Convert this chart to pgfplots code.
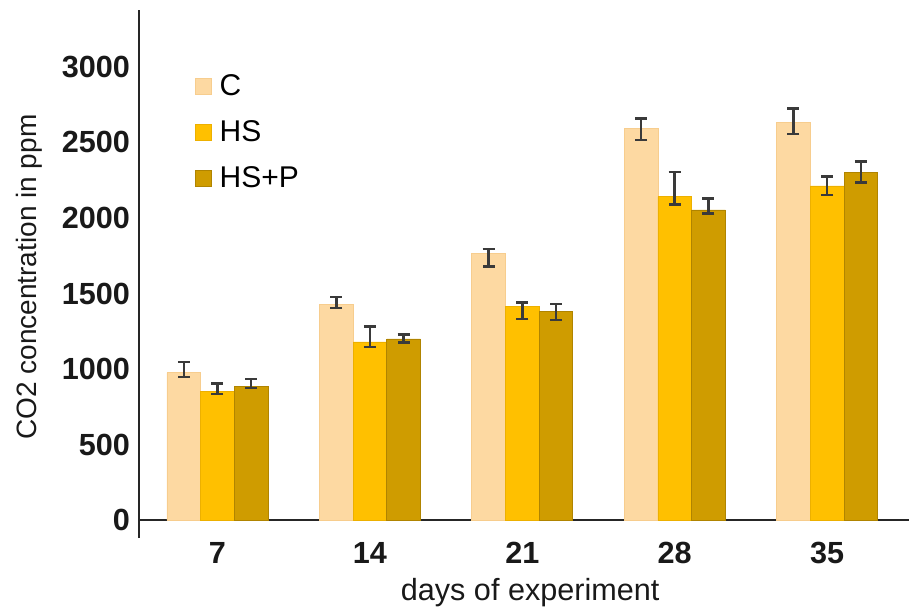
\documentclass[border=0pt]{standalone}
\usepackage{pgfplots}
\pgfplotsset{compat=1.18}
\usepackage{pgfplotstable}
\usepackage{fontspec}
\setmainfont{Liberation Sans}
\definecolor{cC}{HTML}{FDD9A2}
\definecolor{cCe}{HTML}{F7CD8E}
\definecolor{cHS}{HTML}{FFC000}
\definecolor{cHSe}{HTML}{EDB000}
\definecolor{cHP}{HTML}{CF9C00}
\definecolor{cHPe}{HTML}{B08400}
\definecolor{eb}{HTML}{3A3A3A}
\pgfplotstableread{
x C Cp Cm HS HSp HSm HP HPp HPm
0 975 71 28 850 53 16 883 51 9
1 1428 49 24 1179 101 33 1199 28 25
2 1766 29 89 1413 26 82 1384 46 59
3 2594 66 77 2141 164 50 2053 77 22
4 2631 95 75 2212 61 60 2300 73 64
}\data
\begin{document}
\begin{tikzpicture}
\begin{axis}[
  scale only axis, width=385pt, height=264pt,
  xmin=-0.515, xmax=4.537, ymin=-119, ymax=3377,
  axis y line*=left, axis x line*=middle,
  axis line style={line width=1pt, color=black!85},
  ybar=0pt, bar width=0.221,
  xtick={0,1,2,3,4}, xticklabels={7,14,21,28,35},
  ytick={0,500,1000,1500,2000,2500,3000},
  major tick length=0pt,
  /pgf/number format/assume math mode=true,
  /pgf/number format/1000 sep={},
  tick label style={font=\fontsize{15.3pt}{18pt}\selectfont\bfseries, color=black!90},
  xticklabel style={yshift=-7.5pt},
  yticklabel style={xshift=-1pt},
  ylabel={CO2 concentration in ppm},
  xlabel={days of experiment},
  label style={font=\fontsize{15.3pt}{18pt}\selectfont, color=black!90},
  ylabel style={at={(axis description cs:-0.142,0.494)}, anchor=center, font=\fontsize{14pt}{17pt}\selectfont},
  xlabel style={at={(axis description cs:0.508,-0.104)}, anchor=center},
  legend style={at={(axis description cs:0.072,0.886)}, anchor=north west, draw=none, fill=none,
    font=\fontsize{15pt}{18pt}\selectfont, row sep=7pt, inner sep=0pt,
    nodes={inner xsep=4pt}},
  legend cell align=left,
  legend image code/.code={\draw[#1] (0pt,-4pt) rectangle (8pt,4pt);},
  error bars/y dir=both, error bars/y explicit,
  error bars/error bar style={color=eb, line width=1.3pt},
  error bars/error mark options={rotate=90, mark size=3pt, color=eb, line width=1.3pt},
]
\addplot[fill=cC, draw=cCe] table[x=x, y=C, y error plus=Cp, y error minus=Cm]{\data};
\addplot[fill=cHS, draw=cHSe] table[x=x, y=HS, y error plus=HSp, y error minus=HSm]{\data};
\addplot[fill=cHP, draw=cHPe] table[x=x, y=HP, y error plus=HPp, y error minus=HPm]{\data};
\legend{C,HS,HS+P}
\end{axis}
\pgfresetboundingbox
\path (-69.5pt,-34pt) rectangle (385pt,269pt);
\end{tikzpicture}
\end{document}
